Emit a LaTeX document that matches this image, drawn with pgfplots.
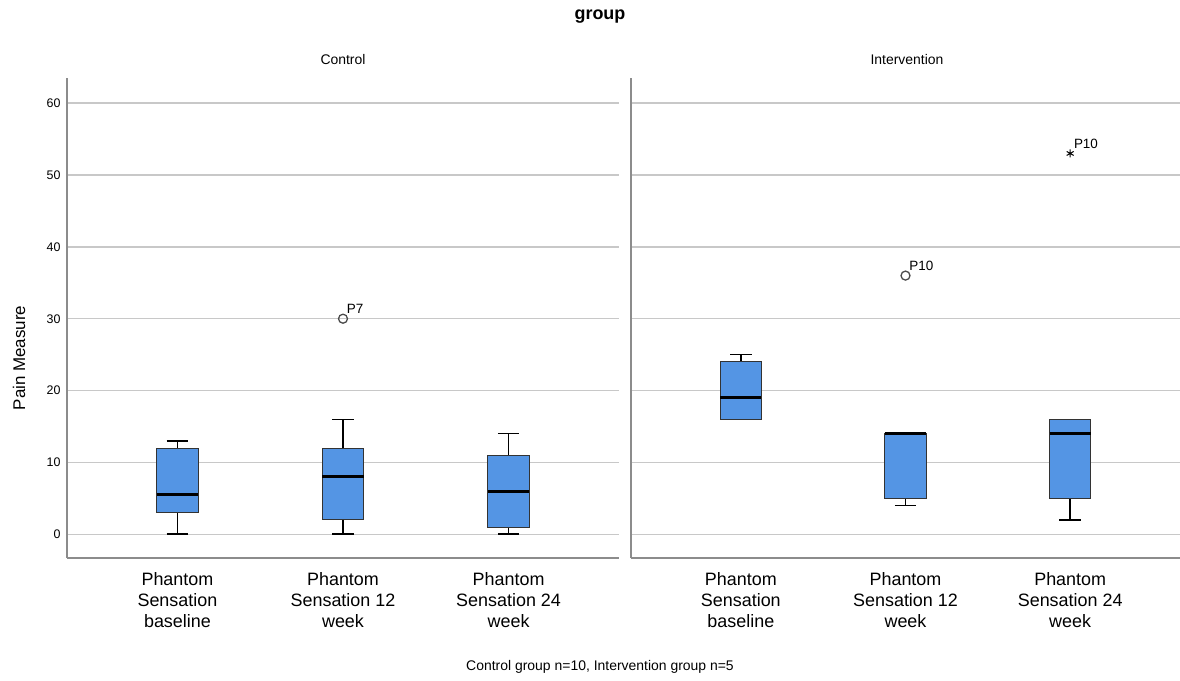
\documentclass[border=0pt]{standalone}
\usepackage{pgfplots}
\pgfplotsset{compat=1.18}
\usepgfplotslibrary{statistics}
\usepackage{fontspec}
\setmainfont{Liberation Sans}
\definecolor{boxblue}{RGB}{84,149,228}
\definecolor{axgrey}{RGB}{140,140,140}
\definecolor{gridgrey}{RGB}{200,200,200}
\pgfplotsset{
  panel/.style={
    scale only axis, width=#1, height=480bp,
    xmin=-0.667, xmax=2.667, ymin=-3.3, ymax=63.5,
    axis x line*=bottom, axis y line*=left,
    axis line style={axgrey, line width=1.6bp},
    x axis line style={-}, y axis line style={-},
    ytick={0,10,...,60},
    ymajorgrids, major grid style={gridgrey, line width=1.3bp},
    xtick={0,1,2},
    xticklabels={{Phantom\\Sensation\\baseline},{Phantom\\Sensation 12\\week},{Phantom\\Sensation 24\\week}},
    xticklabel style={align=center, font=\fontsize{18}{21}\selectfont, yshift=-11bp},
    major tick length=0pt,
    /pgf/number format/assume math mode=true,
    yticklabel style={font=\fontsize{12.5}{14}\selectfont, xshift=-3bp},
    clip=false,
    boxplot/draw direction=y,
    boxplot/box extend=0.25,
    boxplot/whisker extend=0.13,
  },
  bxs/.style={solid, draw=black, line width=1.6bp,
    boxplot/every box/.style={draw=black!80, fill=boxblue, line width=1.1bp},
    boxplot/every whisker/.style={draw=black, line width=1.6bp},
    boxplot/every median/.style={draw=black, line width=3bp}},
  outl/.style={only marks, mark=o, mark size=4.5bp, mark options={draw=black!70, line width=1.3bp},
    nodes near coords, point meta=explicit symbolic,
    every node near coord/.append style={anchor=south west, font=\fontsize{13.5}{15}\selectfont, xshift=0bp, yshift=1bp}},
}
\begin{document}
\begin{tikzpicture}
\path[use as bounding box] (0bp,0bp) rectangle (1180bp,681bp);
\node[font=\bfseries\fontsize{18}{21}\selectfont] at (600bp,664bp) {group};
\node[font=\fontsize{14}{16}\selectfont] at (343bp,621bp) {Control};
\node[font=\fontsize{14}{16}\selectfont] at (907bp,621bp) {Intervention};
\node[font=\fontsize{14}{16}\selectfont] at (600bp,14bp) {Control group n=10, Intervention group n=5};
\node[font=\fontsize{17}{20}\selectfont, rotate=90] at (19bp,323bp) {Pain Measure};

\begin{axis}[panel=552bp, at={(67bp,123bp)}, anchor=south west]
\addplot[bxs, boxplot prepared={draw position=0, lower whisker=0, lower quartile=3, median=5.5, upper quartile=12, upper whisker=13}] coordinates {};
\addplot[bxs, boxplot prepared={draw position=1, lower whisker=0, lower quartile=2, median=8, upper quartile=12, upper whisker=16}] coordinates {};
\addplot[bxs, boxplot prepared={draw position=2, lower whisker=0, lower quartile=1, median=6, upper quartile=11, upper whisker=14}] coordinates {};
\addplot[outl] table[meta=label] {
x y label
1 30 P7
};
\end{axis}

\begin{axis}[panel=549bp, at={(631bp,123bp)}, anchor=south west, yticklabels={}]
\addplot[bxs, boxplot prepared={draw position=0, lower whisker=16, lower quartile=16, median=19, upper quartile=24, upper whisker=25}] coordinates {};
\addplot[bxs, boxplot prepared={draw position=1, lower whisker=4, lower quartile=5, median=14, upper quartile=14, upper whisker=14}] coordinates {};
\addplot[bxs, boxplot prepared={draw position=2, lower whisker=2, lower quartile=5, median=14, upper quartile=16, upper whisker=16}] coordinates {};
\addplot[outl] table[meta=label] {
x y label
1 36 P10
};
\addplot[outl, mark=asterisk, mark size=4bp, mark options={draw=black, line width=1bp}] table[meta=label] {
x y label
2 53 P10
};
\end{axis}
\end{tikzpicture}
\end{document}
